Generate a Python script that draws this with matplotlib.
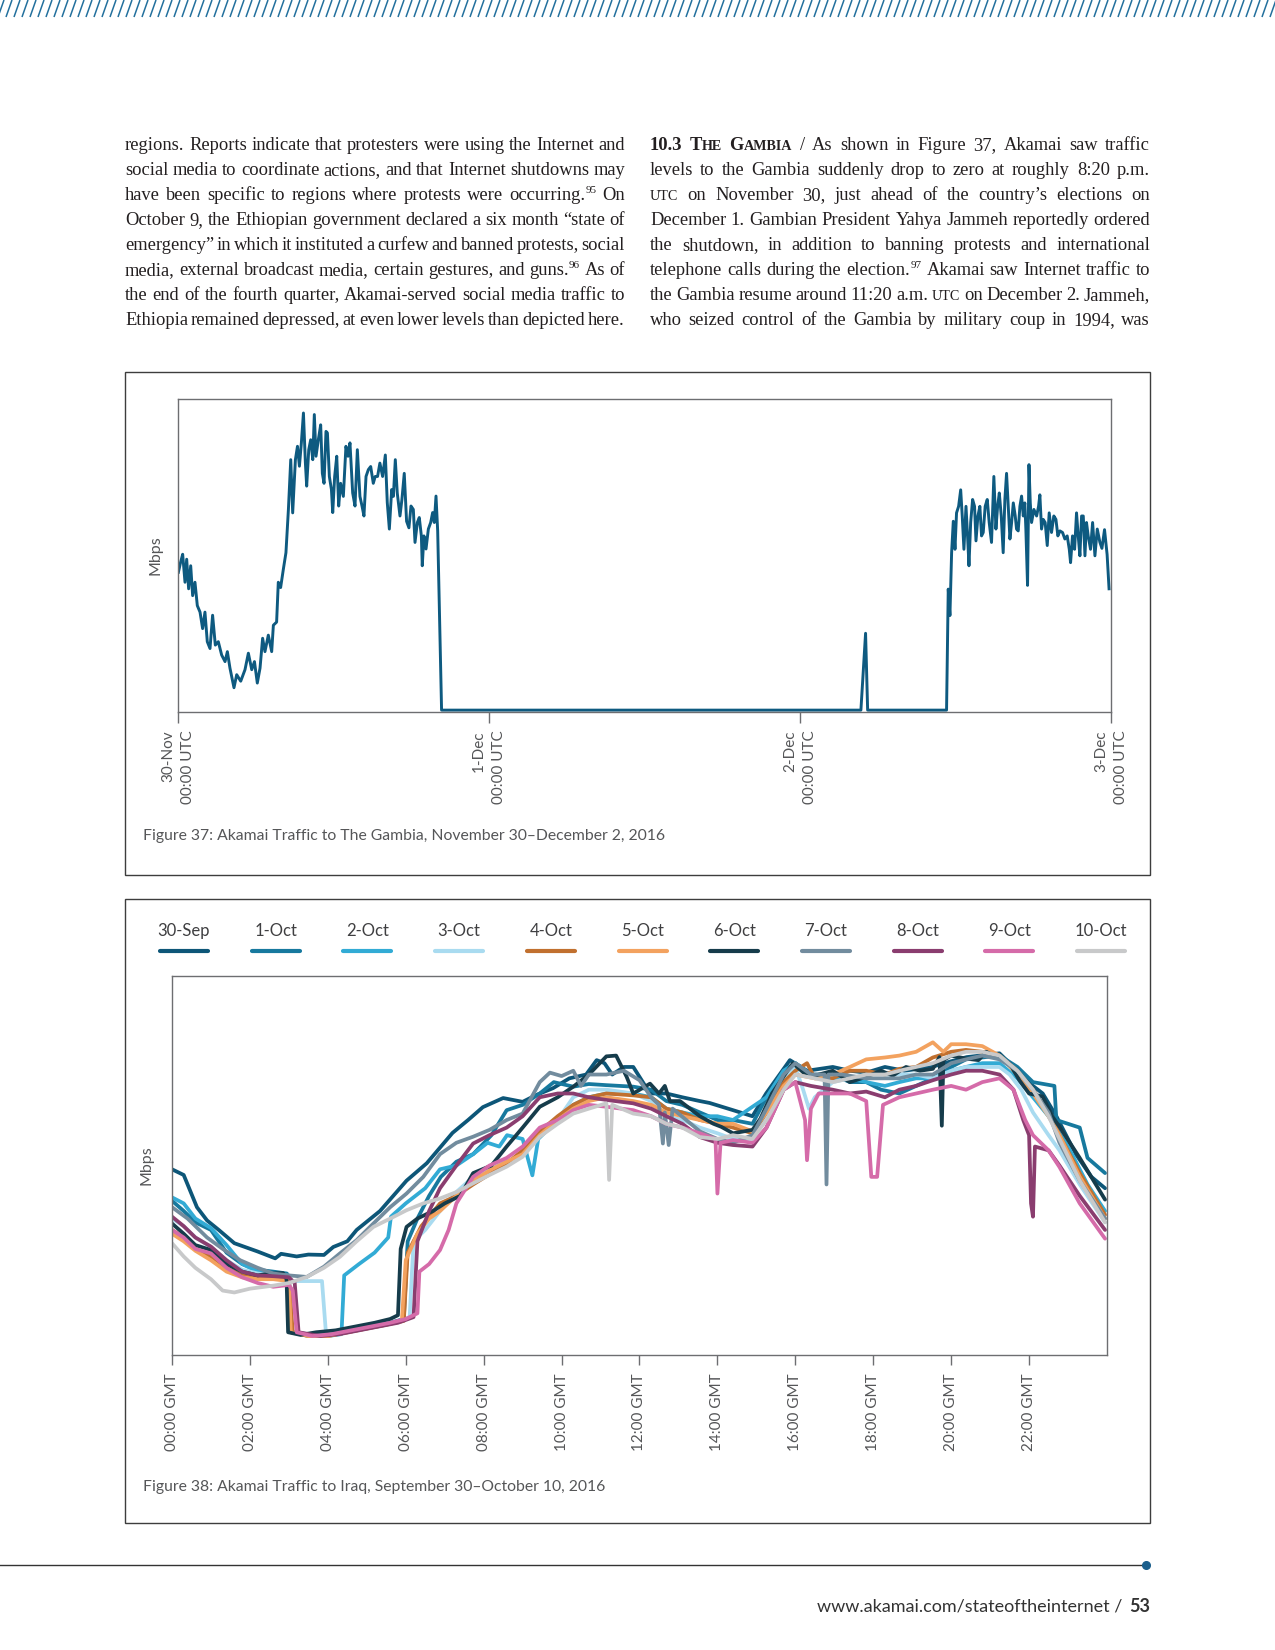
import matplotlib
matplotlib.use("Agg")
import matplotlib.pyplot as plt
from matplotlib.patches import Rectangle

# ------------------------------------------------------------
# data
# ------------------------------------------------------------
left_lines = [
    "regions. Reports indicate that protesters were using the Internet and",
    "social media to coordinate actions, and that Internet shutdowns may",
    "have been specific to regions where protests were occurring.^95 On",
    "October 9, the Ethiopian government declared a six month \u201cstate of",
    "emergency\u201d in which it instituted a curfew and banned protests, social",
    "media, external broadcast media, certain gestures, and guns.^96 As of",
    "the end of the fourth quarter, Akamai-served social media traffic to",
    "Ethiopia remained depressed, at even lower levels than depicted here.",
]
right_lines = [
    "*10.3 *~The *~Gambia / As shown in Figure 37, Akamai saw traffic",
    "levels to the Gambia suddenly drop to zero at roughly 8:20 p.m.",
    "~utc on November 30, just ahead of the country\u2019s elections on",
    "December 1. Gambian President Yahya Jammeh reportedly ordered",
    "the shutdown, in addition to banning protests and international",
    "telephone calls during the election.^97 Akamai saw Internet traffic to",
    "the Gambia resume around 11:20 a.m. ~utc on December 2. Jammeh,",
    "who seized control of the Gambia by military coup in 1994, was",
]

# Figure 37 - hours since 30-Nov 00:00 UTC, relative Mbps
gambia_hours = [
    0.03, 0.2, 0.36, 0.54, 0.67, 0.82, 0.98, 1.13, 1.31, 1.49, 1.7, 1.9, 2.08, 2.26, 2.47,
    2.67, 2.88, 3.11, 3.37, 3.63, 3.81, 4.01, 4.32, 4.53, 4.84, 5.17, 5.43, 5.69, 5.9, 6.12,
    6.33, 6.53, 6.71, 6.97, 7.23, 7.36, 7.61, 7.74, 7.92, 8.13, 8.33, 8.52, 8.7, 8.85, 9.06,
    9.22, 9.37, 9.52, 9.68, 9.83, 9.93, 10.09, 10.24, 10.4, 10.52, 10.65, 10.83, 11.01, 11.14,
    11.27, 11.42, 11.53, 11.68, 11.84, 11.94, 12.09, 12.25, 12.4, 12.55, 12.76, 12.96, 13.12,
    13.27, 13.48, 13.66, 13.84, 14.04, 14.2, 14.35, 14.51, 14.69, 14.87, 15.07, 15.22, 15.4,
    15.58, 15.79, 16.0, 16.15, 16.31, 16.49, 16.62, 16.77, 16.92, 17.13, 17.28, 17.46, 17.64,
    17.82, 17.98, 18.16, 18.29, 18.47, 18.62, 18.78, 18.85, 18.98, 19.14, 19.32, 19.5, 19.65,
    19.78, 19.91, 20.04, 20.34,
    52.7, 53.06, 53.22, 59.31,
    59.44, 59.57, 59.7, 59.83, 59.96, 60.08, 60.24, 60.4, 60.52, 60.65, 60.81, 60.93, 61.04,
    61.17, 61.32, 61.47, 61.58, 61.73, 61.88, 62.01, 62.14, 62.29, 62.45, 62.6, 62.78, 62.96,
    63.12, 63.25, 63.38, 63.53, 63.68, 63.81, 63.94, 64.07, 64.2, 64.33, 64.46, 64.61, 64.71,
    64.84, 64.97, 65.1, 65.23, 65.35, 65.43, 65.56, 65.67, 65.77, 65.87, 66.05, 66.26, 66.41,
    66.51, 66.64, 66.77, 66.92, 67.08, 67.23, 67.41, 67.59, 67.75, 67.9, 68.06, 68.26, 68.44,
    68.62, 68.78, 68.88, 69.03, 69.19, 69.34, 69.47, 69.6, 69.73, 69.86, 69.99, 70.11, 70.24,
    70.42, 70.58, 70.76, 70.94, 71.14, 71.3, 71.5, 71.7, 71.85,
]
gambia_mbps = [
    44.3, 47.5, 50.1, 41.1, 48.5, 39.0, 46.4, 36.8, 41.1, 33.6, 31.5, 26.2, 31.5, 22.0, 19.8,
    30.5, 20.9, 22.0, 17.7, 15.6, 18.8, 13.5, 7.2, 11.4, 9.3, 13.0, 18.3, 13.0, 15.6, 8.7,
    13.5, 23.1, 18.8, 24.1, 18.8, 27.3, 28.3, 41.1, 39.4, 45.3, 50.6, 64.5, 80.5, 63.4, 80.5,
    84.8, 78.4, 85.9, 95.5, 79.5, 72.0, 83.7, 86.9, 80.5, 95.0, 81.6, 86.9, 91.7, 76.1,
    72.9, 89.6, 89.1, 75.1, 70.9, 63.5, 75.1, 81.6, 65.6, 72.9, 68.7, 84.8, 81.6,
    85.9, 69.8, 65.6, 83.7, 68.7, 65.6, 62.4, 75.1, 77.3, 78.3, 72.9, 75.1, 75.1,
    79.4, 75.1, 82.0, 66.7, 58.2, 70.9, 68.7, 80.5, 69.8, 62.4, 67.7, 76.1, 60.7,
    58.6, 65.6, 64.5, 53.9, 60.3, 61.9, 56.0, 46.4, 56.0, 51.8, 58.2, 60.3, 63.5,
    60.3, 68.8, 57.6, 0.0,
    0.0, 24.7, 0.0, 0.0,
    38.9, 30.4, 50.6, 60.7, 51.7, 63.4, 65.5, 70.8, 62.4, 51.7, 65.5, 56.0, 46.4,
    60.3, 67.7, 65.5, 54.4, 62.4, 65.5, 56.0, 57.1, 65.5, 67.7, 60.3, 53.9, 75.1,
    58.2, 65.5, 69.8, 62.4, 50.6, 67.7, 76.1, 65.5, 55.0, 60.3, 66.6, 62.4, 58.2,
    57.6, 65.5, 68.8, 62.4, 66.6, 58.2, 40.1, 78.9, 66.6, 60.3, 64.5, 62.4, 65.5,
    69.2, 58.2, 61.3, 60.3, 52.9, 63.4, 57.1, 62.4, 61.3, 56.0, 57.6, 57.1, 55.0,
    56.0, 51.7, 47.4, 56.0, 51.7, 63.4, 56.0, 49.6, 62.4, 62.4, 49.6, 60.3, 56.0,
    51.7, 60.3, 49.6, 58.2, 54.0, 52.0, 58.0, 50.0, 39.0,
]
gambia_ticks = [0, 24, 48, 72]
gambia_ticklabels = ["30-Nov\n00:00 UTC", "1-Dec\n00:00 UTC", "2-Dec\n00:00 UTC", "3-Dec\n00:00 UTC"]

# Figure 38 - (hour GMT, relative Mbps) per day
sep30 = [(0, 49), (0.3, 47.5), (0.64, 39), (0.9, 35.5), (1.2, 33), (1.6, 29.5), (2.2, 27.3),
         (2.65, 25.5), (2.8, 26.7), (3.2, 26), (3.5, 26.5), (3.9, 26.4), (4.14, 28.5), (4.5, 30),
         (4.74, 33), (5.34, 38), (6.02, 46), (6.54, 50.6), (7.2, 58.6), (7.6, 62), (7.98, 65.4),
         (8.5, 67.8), (9.0, 66.8), (9.35, 68.6), (9.78, 70.4), (10.2, 73), (10.63, 74), (10.9, 77.8),
         (11.1, 77), (11.3, 74), (11.6, 76), (11.84, 76), (12.27, 69), (12.69, 69), (13.1, 68),
         (13.55, 67), (13.8, 66.5), (14.4, 64.6), (14.9, 63), (15.25, 69), (15.86, 77.8), (16.3, 75),
         (16.96, 76), (17.4, 75), (17.82, 74.5), (18.3, 76), (18.8, 75), (19.5, 76), (20.0, 77.5),
         (20.4, 78.6), (21.24, 79.6), (21.6, 76), (22.0, 71.8), (22.35, 69), (22.7, 63), (23.2, 53),
         (23.6, 47), (23.95, 44)]
oct1 = [(0, 40.7), (0.3, 38), (0.6, 35), (1.0, 33), (1.4, 27), (1.8, 24), (2.2, 22.5), (2.6, 22),
        (2.95, 21.5), (3.05, 6), (3.5, 5.5), (4.0, 5.5), (4.5, 6.5), (5.0, 7.5), (5.6, 8.5), (5.95, 9.5),
        (6.05, 30), (6.3, 36), (6.6, 42), (6.9, 47), (7.3, 51), (7.73, 53), (8.2, 58), (8.59, 64.6),
        (9.0, 66), (9.44, 69), (9.8, 72), (10.3, 70.8), (10.7, 71.5), (11.15, 71.2), (11.84, 70.8),
        (12.3, 70), (12.69, 67), (13.1, 66), (13.55, 64), (14.0, 62), (14.4, 62), (14.9, 61),
        (15.26, 68), (15.7, 75), (16.0, 77), (16.4, 74), (16.96, 74), (17.4, 72), (17.82, 72),
        (18.2, 70), (18.67, 69), (19.1, 71), (19.53, 73), (20.0, 76), (20.38, 78), (20.8, 78.5),
        (21.24, 79), (21.7, 76), (22.1, 72), (22.65, 71), (22.7, 62), (23.3, 60), (23.5, 52),
        (23.95, 48)]
oct2 = [(0, 41.6), (0.3, 40), (0.6, 36), (1.0, 33.5), (1.4, 29), (1.8, 24), (2.2, 22), (2.6, 21.5),
        (3.0, 21), (3.08, 6), (3.5, 5), (4.0, 5), (4.35, 5.5), (4.42, 21), (4.8, 24), (5.2, 27),
        (5.55, 31), (5.62, 36.5), (6.0, 40), (6.5, 44), (6.88, 49), (7.3, 50), (7.73, 53), (8.1, 56),
        (8.4, 55), (8.6, 58), (9.0, 57), (9.25, 47.4), (9.4, 57), (9.8, 61), (10.3, 66), (10.7, 68),
        (11.15, 69), (11.84, 69), (12.3, 68), (12.69, 65), (13.1, 64), (13.55, 63), (14.0, 63),
        (14.4, 62), (14.9, 65.5), (15.26, 68), (15.7, 75), (16.0, 77), (16.4, 74), (16.96, 73),
        (17.4, 73), (17.82, 72), (18.3, 71), (18.67, 72), (19.1, 73), (19.53, 73), (20.0, 75),
        (20.38, 76), (20.8, 77), (21.24, 77), (21.7, 73), (22.1, 68), (22.5, 63), (23.0, 55),
        (23.5, 45), (23.95, 38)]
oct3 = [(0, 36), (0.3, 34), (0.6, 31), (1.0, 28.5), (1.4, 25), (1.8, 22.5), (2.2, 21.5), (2.6, 21),
        (2.9, 21), (3.0, 20), (3.1, 19.5), (3.85, 19.5), (3.95, 6), (4.5, 6), (5.0, 7), (5.5, 8),
        (5.85, 9), (6.1, 10), (6.2, 30), (6.5, 33), (6.88, 38), (7.3, 43), (7.73, 47), (8.2, 50),
        (8.59, 51), (9.0, 53), (9.44, 58), (9.9, 62), (10.3, 68), (10.7, 70), (11.15, 70), (11.84, 69),
        (12.3, 67), (12.69, 63), (13.1, 62), (13.55, 60), (14.0, 58.5), (14.4, 57), (14.9, 57),
        (15.26, 64), (15.7, 72), (16.0, 76), (16.2, 70), (16.35, 65), (16.5, 68), (16.96, 72),
        (17.4, 73), (17.82, 74), (18.3, 74), (18.67, 74), (19.1, 74), (19.53, 73), (20.0, 75),
        (20.38, 76), (20.8, 76), (21.24, 76), (21.5, 74), (21.8, 70), (22.1, 64), (22.5, 58),
        (22.78, 54), (23.3, 45), (23.95, 35)]
oct4 = [(0, 33), (0.3, 31), (0.6, 28), (1.0, 26), (1.4, 23), (1.8, 21), (2.2, 20.5), (2.6, 20.5),
        (3.0, 20), (3.1, 6), (3.5, 5), (4.0, 5), (4.5, 6), (5.0, 7), (5.5, 8), (5.95, 9), (6.05, 27),
        (6.4, 34), (6.88, 40), (7.3, 42), (7.73, 45), (8.2, 48), (8.59, 50.5), (9.0, 54), (9.44, 59),
        (9.9, 63), (10.3, 66), (10.7, 68), (11.15, 69), (11.84, 68.5), (12.3, 68), (12.69, 65),
        (13.1, 64), (13.55, 62), (14.0, 61), (14.4, 60), (14.9, 58.5), (15.26, 64), (15.7, 72),
        (16.0, 75), (16.3, 77), (16.5, 73), (16.96, 73), (17.4, 75), (17.82, 75), (18.3, 74),
        (18.67, 75.5), (19.1, 76), (19.53, 78.5), (20.0, 80), (20.38, 80.5), (20.8, 80), (21.24, 79),
        (21.7, 75), (22.1, 70), (22.5, 64), (22.78, 58), (23.3, 48), (23.95, 37)]
oct5 = [(0, 32), (0.3, 30), (0.6, 27.5), (1.0, 25), (1.4, 22), (1.8, 20.5), (2.2, 20), (2.6, 20),
        (3.0, 19.5), (3.05, 6), (3.5, 5), (4.0, 5), (4.5, 6), (5.0, 7), (5.5, 8), (5.9, 9), (6.0, 25),
        (6.3, 32), (6.6, 36), (6.88, 38), (7.3, 42), (7.73, 46), (8.2, 49), (8.59, 51), (9.0, 53),
        (9.44, 58), (9.9, 62), (10.3, 65), (10.7, 67), (11.15, 68), (11.84, 67), (12.3, 66),
        (12.69, 64), (13.1, 63), (13.55, 62), (14.0, 61), (14.4, 61), (14.9, 59), (15.26, 64),
        (15.7, 71), (16.0, 74), (16.5, 73), (16.96, 74), (17.4, 76), (17.82, 78), (18.3, 78.5),
        (18.67, 79), (19.1, 80), (19.53, 82.5), (19.8, 80), (20.0, 82), (20.38, 82), (20.8, 81.5),
        (21.24, 79), (21.7, 74), (22.1, 69), (22.5, 63), (22.78, 58), (23.3, 47), (23.95, 36)]
oct6 = [(0, 34.7), (0.3, 32), (0.6, 29), (1.0, 27.7), (1.4, 24), (1.8, 22), (2.2, 21), (2.5, 21.5),
        (2.85, 21.6), (2.94, 20), (2.98, 6), (3.3, 5.3), (3.7, 6), (4.2, 6.5), (4.7, 7.5), (5.2, 8.5),
        (5.6, 9.5), (5.8, 10.5), (5.87, 28), (6.02, 33.8), (6.3, 36), (6.7, 38), (7.0, 40), (7.4, 42),
        (7.73, 48), (8.2, 50), (8.59, 55), (9.0, 60), (9.44, 65.5), (9.9, 68), (10.3, 70.8),
        (10.7, 74), (11.15, 78.8), (11.4, 79), (11.67, 73.4), (11.84, 69), (12.27, 71.6), (12.5, 69),
        (12.65, 71), (12.78, 67), (13.04, 67), (13.55, 63), (13.9, 61), (14.1, 60.2), (14.4, 58.5),
        (14.9, 59.4), (15.1, 62.3), (15.4, 69), (15.8, 75), (15.94, 77), (16.2, 74.6), (16.5, 73.7),
        (16.96, 75), (17.4, 72), (17.82, 73.4), (18.2, 75), (18.5, 73.7), (18.84, 76), (19.2, 75),
        (19.53, 75.5), (19.7, 78.6), (19.76, 60.5), (19.8, 77.8), (20.0, 79), (20.38, 78.2),
        (20.7, 77.8), (20.9, 80), (21.24, 78.2), (21.5, 76.9), (21.75, 72.5), (22.0, 69),
        (22.35, 68.2), (22.6, 62.9), (22.78, 60.2), (23.3, 52), (23.95, 41)]
oct7 = [(0, 39), (0.4, 36), (0.9, 31), (1.3, 28), (1.75, 25), (2.2, 23), (2.6, 21.5), (3.0, 21),
        (3.46, 20.6), (3.9, 23.3), (4.31, 26.8), (4.74, 30.3), (5.17, 34.7), (5.6, 39), (6.02, 42.6),
        (6.45, 47), (6.88, 53), (7.3, 56), (7.73, 57.6), (8.15, 59.4), (8.59, 62), (9.0, 63.7),
        (9.44, 72), (9.7, 74.5), (10.0, 73.6), (10.3, 75), (10.5, 71), (10.7, 74), (11.15, 74),
        (11.6, 75), (12.0, 72.5), (12.3, 68), (12.5, 66), (12.6, 55.8), (12.65, 64), (12.75, 55.4),
        (12.85, 65), (13.2, 62), (13.55, 59), (14.0, 57), (14.4, 56), (14.9, 58), (15.26, 65),
        (15.7, 74), (16.0, 77), (16.4, 74), (16.75, 74), (16.8, 45), (16.85, 74), (17.2, 74),
        (17.82, 73), (18.3, 73), (18.67, 73), (19.1, 74), (19.53, 74), (20.0, 77), (20.38, 78),
        (20.8, 79), (21.24, 78), (21.7, 75), (22.1, 70), (22.5, 64), (22.78, 56), (23.3, 46),
        (23.95, 36)]
oct8 = [(0, 36.5), (0.3, 34), (0.6, 31), (1.0, 28.6), (1.4, 25), (1.8, 22), (2.2, 21), (2.6, 20.8),
        (3.0, 20.5), (3.15, 19), (3.25, 6), (3.8, 5), (4.3, 5.5), (4.8, 6.5), (5.3, 7.5), (5.8, 8.5),
        (6.2, 10), (6.3, 30), (6.6, 38), (6.88, 44), (7.3, 50), (7.73, 55.8), (8.15, 58), (8.59, 60),
        (9.0, 63), (9.44, 68), (9.9, 69), (10.3, 69), (10.7, 68), (11.15, 67.3), (11.84, 66.4),
        (12.3, 65), (12.69, 63), (13.1, 61), (13.55, 57.5), (14.0, 56), (14.4, 55.4), (14.9, 55),
        (15.26, 60), (15.7, 70), (16.0, 72), (16.4, 71), (16.96, 70), (17.4, 69), (17.82, 69.5),
        (18.3, 68), (18.67, 70), (19.1, 71), (19.53, 72.5), (20.0, 74), (20.38, 75), (20.8, 75),
        (21.24, 74), (21.6, 70), (21.85, 62), (22.0, 58), (22.05, 40), (22.1, 36.5), (22.15, 55),
        (22.5, 54), (22.78, 50), (23.3, 42), (23.95, 33)]
oct9 = [(0, 33), (0.3, 31), (0.6, 28), (1.0, 26.8), (1.4, 23), (1.8, 20.5), (2.2, 19), (2.6, 18),
        (3.0, 18.5), (3.1, 17), (3.2, 6), (3.6, 5), (4.1, 5.5), (4.6, 6.5), (5.1, 7.5), (5.6, 8.5),
        (6.0, 9.5), (6.3, 11), (6.35, 22), (6.6, 24), (6.88, 27.7), (7.1, 33), (7.3, 40), (7.73, 47),
        (8.15, 50), (8.59, 52), (9.0, 55), (9.44, 60), (9.9, 62), (10.3, 64.6), (10.7, 66),
        (11.15, 65.5), (11.84, 64.6), (12.3, 63), (12.69, 61), (13.1, 60), (13.55, 58.5), (13.95, 57),
        (14.0, 42.6), (14.08, 56), (14.4, 56.7), (14.9, 56), (15.26, 60), (15.7, 70), (16.0, 72),
        (16.25, 62), (16.3, 51.4), (16.4, 65), (16.6, 69), (16.96, 69), (17.4, 69), (17.82, 67),
        (17.95, 47), (18.1, 47), (18.25, 66), (18.67, 68), (19.1, 69), (19.53, 70), (20.0, 71),
        (20.38, 70), (20.8, 72), (21.24, 73), (21.6, 70), (21.9, 62), (22.1, 58), (22.5, 54),
        (22.78, 49.6), (23.3, 40), (23.95, 30.7)]
oct10 = [(0, 29.5), (0.3, 26), (0.6, 23), (1.0, 20), (1.3, 17), (1.6, 16.5), (2.0, 17.5), (2.6, 18.3),
         (3.0, 19), (3.46, 20.6), (3.9, 23), (4.31, 25.9), (4.74, 30), (5.17, 33.8), (5.6, 36),
         (6.02, 38.2), (6.45, 40), (6.88, 41.3), (7.3, 43), (7.73, 45.3), (8.15, 47.5), (8.59, 49.7),
         (9.0, 52.3), (9.44, 57.6), (9.9, 61), (10.3, 63.7), (10.7, 65), (11.15, 66.4), (11.22, 46.2),
         (11.3, 66), (11.84, 63.7), (12.3, 63), (12.69, 61), (13.1, 60), (13.55, 57.5), (14.0, 57),
         (14.4, 58), (14.9, 57), (15.26, 62), (15.7, 70), (16.0, 74), (16.5, 73), (16.96, 72),
         (17.4, 73), (17.82, 74), (18.3, 74), (18.67, 75), (19.1, 76), (19.53, 77), (20.0, 79),
         (20.38, 80), (20.8, 80), (21.24, 79), (21.7, 75), (22.1, 70), (22.5, 63), (22.78, 57),
         (23.3, 46), (23.95, 35)]

iraq_days = ["30-Sep", "1-Oct", "2-Oct", "3-Oct", "4-Oct", "5-Oct",
             "6-Oct", "7-Oct", "8-Oct", "9-Oct", "10-Oct"]
iraq_series = [sep30, oct1, oct2, oct3, oct4, oct5, oct6, oct7, oct8, oct9, oct10]
iraq_colors = ["#0d5678", "#17799e", "#32abd5", "#a9dbf0", "#c1702f", "#f3a25f",
               "#163c4b", "#728c9e", "#8a3d6f", "#d56ba9", "#c8c9ca"]
iraq_ticks = list(range(0, 24, 2))
iraq_ticklabels = ["%02d:00 GMT" % h for h in iraq_ticks]

# ------------------------------------------------------------
# page
# ------------------------------------------------------------
W, H = 1275, 1650
SERIF = "Liberation Serif"
SANS = "Lato"
TXT = "#231f20"
GREY = "#555658"
SPINE = "#6d6e71"

fig = plt.figure(figsize=(W / 100, H / 100), dpi=100)
page = fig.add_axes([0, 0, 1, 1])
page.set_xlim(0, W)
page.set_ylim(H, 0)
page.axis("off")
renderer = fig.canvas.get_renderer()


def axes_px(left, top, right, bottom):
    return fig.add_axes([left / W, 1 - bottom / H, (right - left) / W, (bottom - top) / H])


# hatched band along the top edge
for x in range(-10, W + 10, 8):
    page.plot([x, x + 6], [17, 0], color="#23709d", lw=1.1, solid_capstyle="butt")


def parse_word(word):
    bold = word.startswith("*")
    if bold:
        word = word[1:]
    caps = word.startswith("~")
    if caps:
        word = word[1:]
    sup = None
    if "^" in word:
        word, sup = word.split("^")
    wt = "bold" if bold else "normal"
    runs = []
    if caps:
        cur, small = "", None
        for ch in word:
            s = ch.islower()
            if small is not None and s != small:
                runs.append((cur.upper(), 0.76 if small else 1.0, wt, 0))
                cur = ""
            cur += ch
            small = s
        runs.append((cur.upper(), 0.76 if small else 1.0, wt, 0))
    else:
        runs.append((word, 1.0, wt, 0))
    if sup:
        runs.append((sup, 0.6, wt, 0.38))
    return runs


def build_line(line, y, size):
    items = []
    for word in line.split(" "):
        parts, w = [], 0
        for s, sc, wt, rise in parse_word(word):
            t = page.text(0, y, s, fontsize=size * sc, fontweight=wt, family=SERIF,
                          color=TXT, va="baseline", ha="left")
            parts.append((t, w, rise))
            w += t.get_window_extent(renderer).width
        items.append((parts, w))
    return items


def justify(lines, x0, x1, y0, step, size):
    for i, line in enumerate(lines):
        y = y0 + i * step
        items = build_line(line, y, size)
        total = sum(w for _, w in items)
        gap = (x1 - x0 - total) / (len(items) - 1)
        x = x0
        for parts, w in items:
            for t, off, rise in parts:
                t.set_position((x + off, y - rise * size * 100 / 72))
            x += w + gap


# fit the body size: the tightest line keeps a narrow word space
def natural_ratio(size):
    worst = 0
    for line in left_lines + right_lines:
        items = build_line(line, 0, size)
        total = sum(w for _, w in items) + (len(items) - 1) * size * 100 / 72 * 0.13
        worst = max(worst, total / 500)
        for parts, _ in items:
            for t, _, _ in parts:
                t.remove()
    return worst


body_size = 14.0 / natural_ratio(14.0)

justify(left_lines, 125, 625, 150, 25, body_size)
justify(right_lines, 650, 1150, 150, 25, body_size)

# figure boxes
for top, bottom in [(372, 875), (899, 1523)]:
    page.add_patch(Rectangle((125, top), 1025, bottom - top, fill=False, ec="#3d3d3d", lw=1.0))

page.text(143, 836, "Figure 37: Akamai Traffic to The Gambia, November 30\u2013December 2, 2016",
          family=SANS, fontsize=11.3, color=GREY, va="center", ha="left")
page.text(143, 1487, "Figure 38: Akamai Traffic to Iraq, September 30\u2013October 10, 2016",
          family=SANS, fontsize=11.3, color=GREY, va="center", ha="left")

# footer
page.plot([0, 1146], [1565, 1565], color="#333333", lw=1.0)
page.plot([1146], [1565], "o", color="#1b5f8c", ms=5.5)
t53 = page.text(1150, 1607, "53", family=SANS, fontsize=13, fontweight="bold",
                color="#333333", ha="right", va="center")
w53 = t53.get_window_extent(renderer).width
page.text(1150 - w53 - 2, 1607, "www.akamai.com/stateoftheinternet / ", family=SANS,
          fontsize=13, color="#333333", ha="right", va="center")


def style_axes(ax):
    for s in ax.spines.values():
        s.set_color(SPINE)
        s.set_linewidth(1.0)
    ax.set_yticks([])
    ax.tick_params(axis="x", colors=SPINE, length=8, width=1.0, labelcolor=GREY,
                   labelsize=11, pad=5)
    for lab in ax.get_xticklabels():
        lab.set_family(SANS)


# ------------------------------------------------------------
# Figure 37
# ------------------------------------------------------------
ax1 = axes_px(178, 399, 1111, 712)
ax1.plot(gambia_hours, gambia_mbps, color="#0e5a80", lw=2.1, solid_joinstyle="round")
ax1.set_xlim(0, 72)
ax1.set_ylim(-0.6, 100)
ax1.set_xticks(gambia_ticks)
ax1.set_xticklabels(gambia_ticklabels, rotation=90, multialignment="right", linespacing=1.5)
style_axes(ax1)
ax1.set_ylabel("Mbps", family=SANS, fontsize=11.5, color=GREY, labelpad=11)

# ------------------------------------------------------------
# Figure 38
# ------------------------------------------------------------
ax2 = axes_px(172, 976, 1107, 1355)
for pts, col in zip(iraq_series, iraq_colors):
    hrs = [p[0] for p in pts]
    val = [p[1] for p in pts]
    ax2.plot(hrs, val, color=col, lw=2.7, solid_joinstyle="round", solid_capstyle="round")
ax2.set_xlim(0, 24)
ax2.set_ylim(0, 100)
ax2.set_xticks(iraq_ticks)
ax2.set_xticklabels(iraq_ticklabels, rotation=90)
style_axes(ax2)
ax2.tick_params(axis="x", length=7.5, pad=6)
ax2.set_ylabel("Mbps", family=SANS, fontsize=11.5, color=GREY, labelpad=13)

# legend row above the plot
for i, (day, col) in enumerate(zip(iraq_days, iraq_colors)):
    cx = 184 + i * 91.7
    page.text(cx, 931, day, family=SANS, fontsize=12, color="#3f3f41",
              ha="center", va="center")
    page.plot([cx - 24, cx + 24], [951, 951], color=col, lw=3.0, solid_capstyle="round")

fig.savefig("out.png", dpi=100)
